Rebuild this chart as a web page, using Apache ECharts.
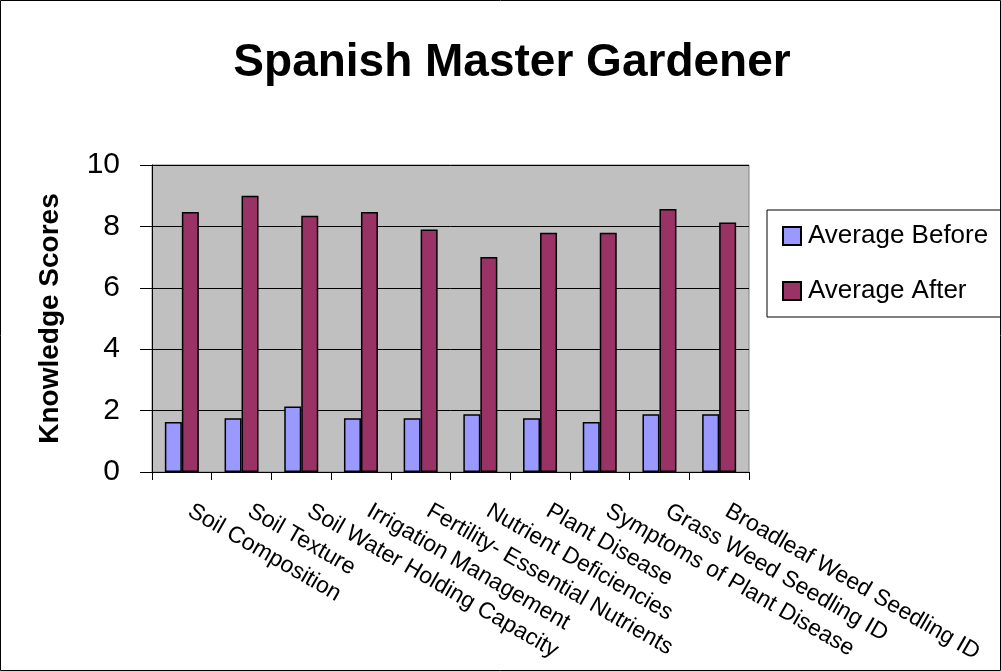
<!DOCTYPE html>
<html><head><meta charset="utf-8">
<script src="https://cdn.jsdelivr.net/npm/echarts@6/dist/echarts.min.js"></script>
<style>html,body{margin:0;padding:0;background:#fff}#c{width:1001px;height:671px}</style>
</head><body><div id="c"></div>
<script>
const categories = ["Soil Composition","Soil Texture","Soil Water Holding Capacity","Irrigation Management","Fertility- Essential Nutrients","Nutrient Deficiencies","Plant Disease","Symptoms of Plant Disease","Grass Weed Seedling ID","Broadleaf Weed Seedling ID"];
const averageBefore = [1.63,1.75,2.13,1.75,1.75,1.88,1.75,1.63,1.88,1.88];
const averageAfter = [8.47,9.0,8.35,8.47,7.9,7.0,7.79,7.79,8.57,8.13];
const yTicks = [0,2,4,6,8,10];

const FONT = 'Liberation Sans, Arial, sans-serif';
const chart = echarts.init(document.getElementById('c'));
chart.setOption({
  animation:false,
  backgroundColor:'#fff',
  graphic:[{type:'rect',shape:{x:0.5,y:0.5,width:1000,height:670},style:{fill:'none',stroke:'#000',lineWidth:1},silent:true,z:100}],
  title:{text:'Spanish Master Gardener',left:507,textAlign:'center',top:35,textStyle:{fontFamily:FONT,fontSize:46,fontWeight:'bold',color:'#000'}},
  legend:{orient:'vertical',left:767,top:210,icon:'rect',itemWidth:18,itemHeight:18,itemGap:29,
    padding:[13,40,13,15],borderColor:'#000',borderWidth:1,backgroundColor:'#fff',
    textStyle:{fontFamily:FONT,fontSize:26,color:'#000',padding:[0,0,0,2]},
    data:['Average Before','Average After']},
  grid:{left:152,right:252,top:165,bottom:199,show:true,backgroundColor:'#C0C0C0',borderColor:'#808080',borderWidth:1},
  xAxis:{type:'category',data:categories,
    axisLine:{lineStyle:{color:'#000',width:1}},
    axisTick:{show:true,length:8,lineStyle:{color:'#000'}},
    axisLabel:{rotate:-30,interval:0,margin:33,padding:[0,0,0,9],fontFamily:FONT,fontSize:23,color:'#000'}},
  yAxis:{type:'value',min:0,max:10,interval:2,
    name:'Knowledge Scores',nameLocation:'middle',nameGap:88,nameRotate:90,
    nameTextStyle:{fontFamily:FONT,fontSize:28,fontWeight:'bold',color:'#000'},
    axisLine:{show:true,lineStyle:{color:'#000'}},
    axisTick:{show:true,length:12,lineStyle:{color:'#000'}},
    splitLine:{lineStyle:{color:'#000',width:1}},
    axisLabel:{margin:32,fontFamily:FONT,fontSize:30,color:'#000',
      formatter:v=>yTicks.includes(v)?String(v):''}},
  series:[
    {name:'Average Before',type:'bar',data:averageBefore,barWidth:17,barGap:'0%',
     itemStyle:{color:'#9999FF',borderColor:'#000',borderWidth:1.5}},
    {name:'Average After',type:'bar',data:averageAfter,barWidth:17,barGap:'0%',
     itemStyle:{color:'#993366',borderColor:'#000',borderWidth:1.5}}
  ]
});
</script></body></html>
